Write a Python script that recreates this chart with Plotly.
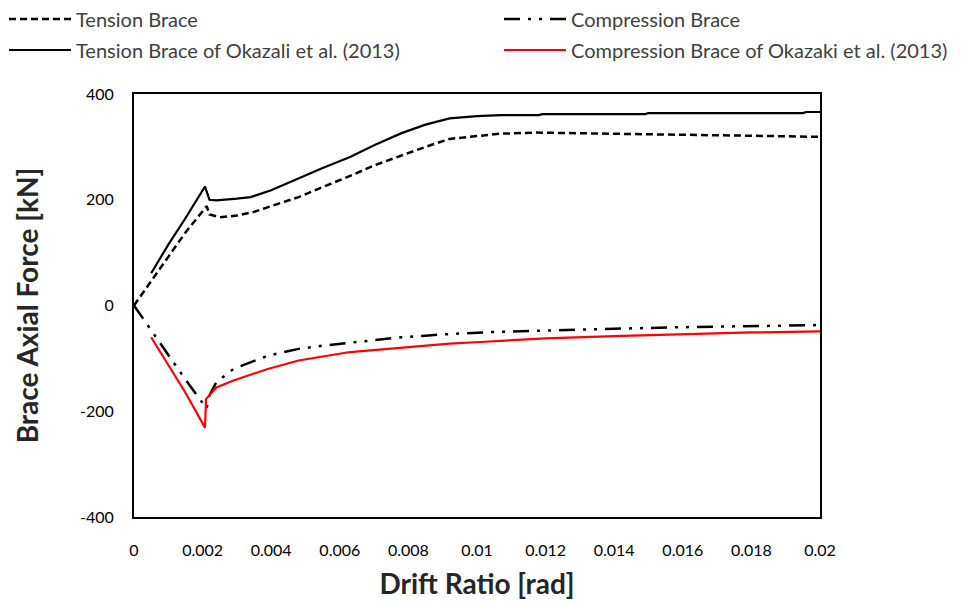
import plotly.graph_objects as go

# ---- data ----
tension_x = [0, 0.0005, 0.001, 0.0015, 0.00212, 0.0022, 0.0025, 0.003, 0.0035, 0.004, 0.0048,
             0.0055, 0.0063, 0.007, 0.0078, 0.0085, 0.0092, 0.01, 0.0107, 0.0117, 0.013, 0.014,
             0.016, 0.018, 0.02]
tension_y = [0, 45, 92, 138, 188, 172, 167, 170, 177, 188, 205, 224, 245, 265, 284, 300, 315,
             321, 325, 327, 326, 325, 323, 321, 319]

okz_tension_x = [0.0005, 0.001, 0.0015, 0.00207, 0.0022, 0.0024, 0.003, 0.0034, 0.004, 0.0048,
                 0.0055, 0.0063, 0.007, 0.0078, 0.0085, 0.0092, 0.01, 0.0107, 0.0118, 0.0119,
                 0.0149, 0.015, 0.0195, 0.0196, 0.02]
okz_tension_y = [61, 115, 165, 225, 200, 199, 202, 205, 218, 241, 260, 281, 303, 326, 342, 354,
                 358, 360, 360, 362, 362, 364, 364, 366, 366]

comp_x = [0, 0.0005, 0.001, 0.0015, 0.00212, 0.00216, 0.0024, 0.0029, 0.0039, 0.0048, 0.0055,
          0.0063, 0.007, 0.0078, 0.0085, 0.0092, 0.0105, 0.012, 0.014, 0.016, 0.018, 0.02]
comp_y = [0, -47, -93, -140, -195, -175, -145, -120, -95, -82, -76, -70, -65, -60, -57, -54,
          -50, -47, -44, -41, -39, -37]

okz_comp_x = [0.0005, 0.001, 0.0015, 0.00207, 0.0021, 0.0024, 0.0029, 0.0039, 0.0048, 0.0063,
              0.0078, 0.0092, 0.0101, 0.0107, 0.012, 0.014, 0.016, 0.018, 0.02]
okz_comp_y = [-60, -112, -165, -231, -177, -155, -142, -120, -104, -88, -79, -72, -69, -67,
              -62, -58, -54, -51, -49]

x_ticks = [0, 0.002, 0.004, 0.006, 0.008, 0.01, 0.012, 0.014, 0.016, 0.018, 0.02]
x_tick_text = ["0", "0.002", "0.004", "0.006", "0.008", "0.01", "0.012", "0.014", "0.016",
               "0.018", "0.02"]
y_ticks = [-400, -200, 0, 200, 400]
y_tick_text = ["-400", "-200", "0", "200", "400"]

FONT = "Lato"

fig = go.Figure()
fig.add_trace(go.Scatter(x=tension_x, y=tension_y, mode="lines", name="Tension Brace",
                         line=dict(color="black", width=2.5, dash="7px,4px"), legend="legend",
                         showlegend=True))
fig.add_trace(go.Scatter(x=comp_x, y=comp_y, mode="lines", name="Compression Brace",
                         line=dict(color="black", width=2.5, dash="16px,8px,3px,8px,3px,8px"),
                         legend="legend2", showlegend=True))
fig.add_trace(go.Scatter(x=okz_tension_x, y=okz_tension_y, mode="lines",
                         name="Tension Brace of Okazali et al. (2013)",
                         line=dict(color="black", width=2.2), legend="legend3", showlegend=True))
fig.add_trace(go.Scatter(x=okz_comp_x, y=okz_comp_y, mode="lines",
                         name="Compression Brace of Okazaki et al. (2013)",
                         line=dict(color="#ff0000", width=2.2), legend="legend4", showlegend=True))

leg_common = dict(orientation="h", xref="container", yref="container", xanchor="left",
                  yanchor="middle", itemwidth=62,
                  bgcolor="rgba(0,0,0,0)", font=dict(family=FONT, size=20, color="#404040"))

col1_x = 4 / 965
col2_x = 499 / 965
row1_y = 1 - 19 / 602
row2_y = 1 - 50 / 602

fig.update_layout(
    width=965, height=602,
    showlegend=True,
    margin=dict(l=134, r=145, t=94, b=85, autoexpand=False),
    paper_bgcolor="white", plot_bgcolor="white",
    font=dict(family=FONT, color="black"),
    legend=dict(x=col1_x, y=row1_y, **leg_common),
    legend2=dict(x=col2_x, y=row1_y, **leg_common),
    legend3=dict(x=col1_x, y=row2_y, **leg_common),
    legend4=dict(x=col2_x, y=row2_y, **leg_common),
    xaxis=dict(range=[0, 0.02], tickvals=x_ticks, ticktext=x_tick_text, showgrid=False,
               zeroline=False, showline=True, linecolor="black", linewidth=2, mirror=True,
               ticks="", ticklabelstandoff=18, tickfont=dict(family=FONT, size=16, color="black"),
               title=dict(text="<b>Drift Ratio [rad]</b>", standoff=16,
                          font=dict(family=FONT, size=28, color="#262626"))),
    yaxis=dict(range=[-400, 400], tickvals=y_ticks, ticktext=y_tick_text, showgrid=False,
               zeroline=False, showline=True, linecolor="black", linewidth=2, mirror=True,
               ticks="", ticklabelstandoff=15, tickfont=dict(family=FONT, size=16, color="black"),
               title=dict(text="<b>Brace Axial Force [kN]</b>", standoff=33,
                          font=dict(family=FONT, size=28, color="#262626"))),
)

fig.write_html("out.html")
